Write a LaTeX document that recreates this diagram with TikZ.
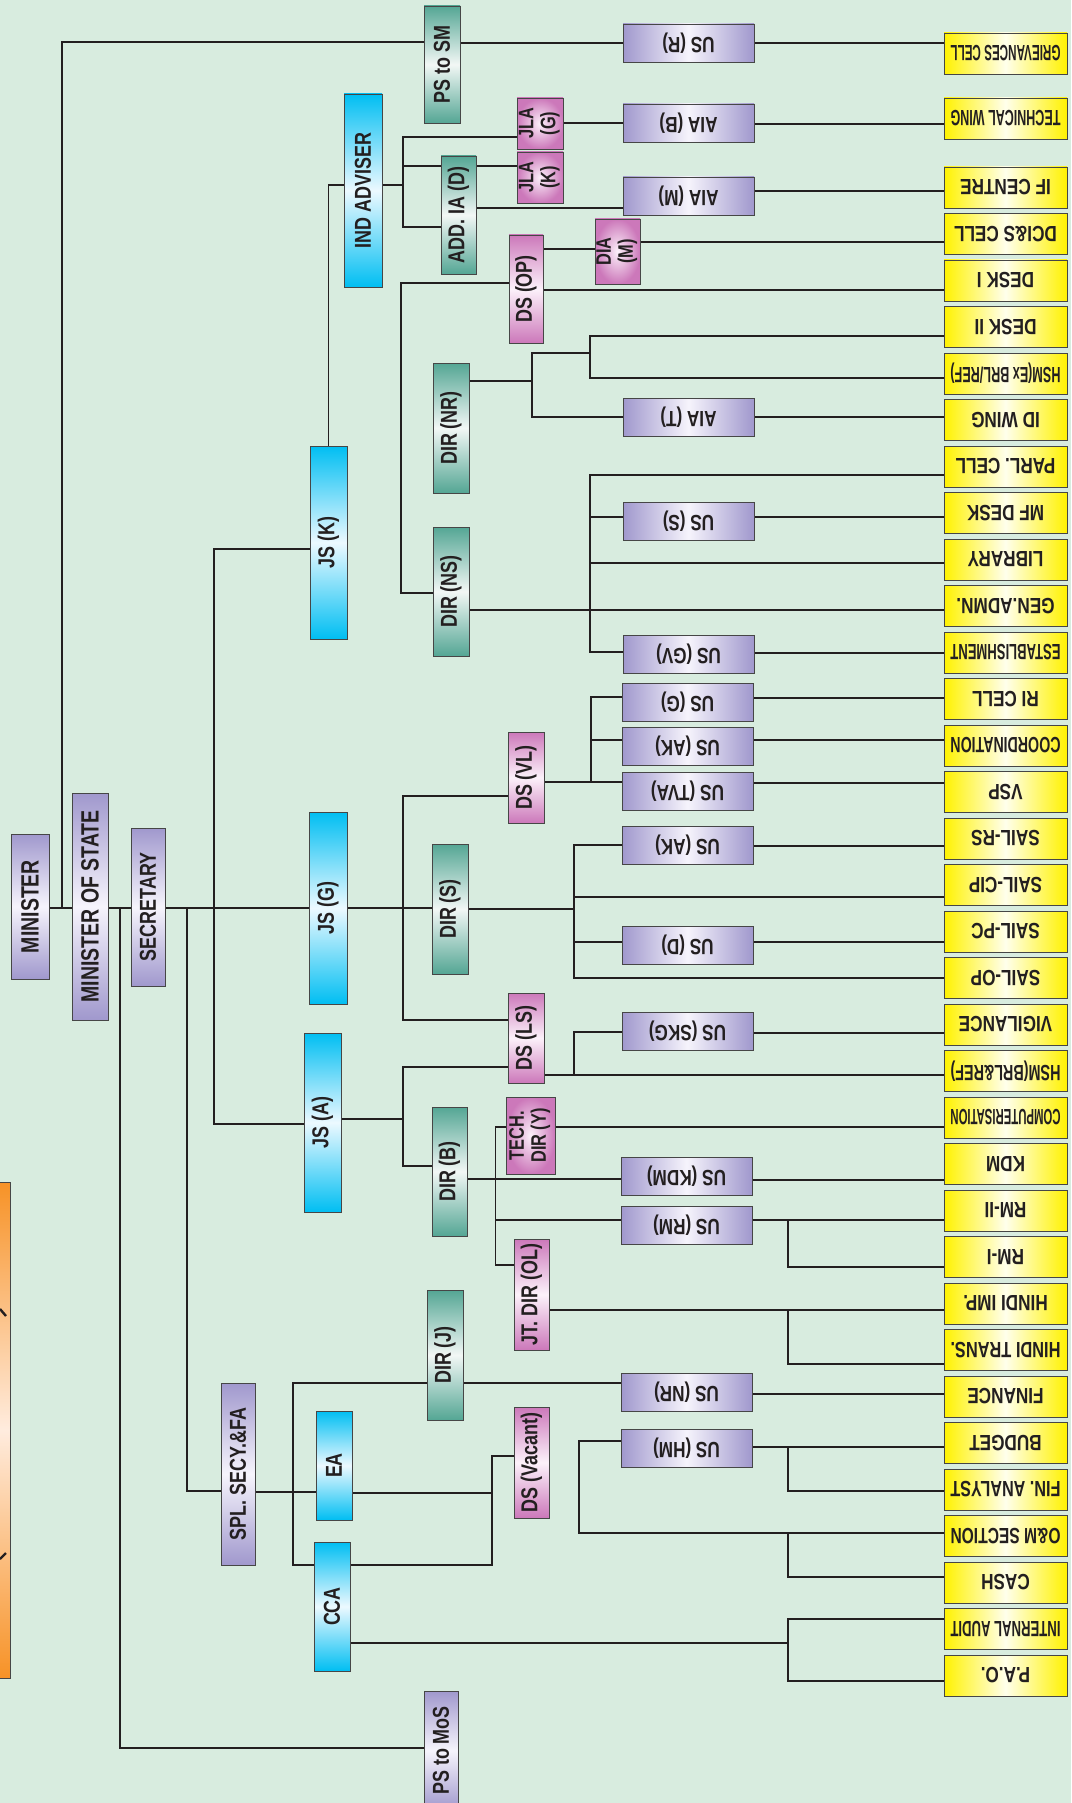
\documentclass[tikz,border=0pt]{standalone}
\usepackage{fontspec}
\setmainfont{Liberation Sans}[FakeStretch=0.78]
\usepackage{graphicx}
\pgfdeclarelayer{back}
\pgfdeclarelayer{lines}
\pgfsetlayers{back,lines,main}
\definecolor{bgc}{RGB}{216,236,223}
\definecolor{linec}{RGB}{35,31,32}
\definecolor{bordc}{RGB}{70,70,70}
\definecolor{txtc}{RGB}{35,31,32}
\definecolor{purE}{RGB}{160,152,205}
\definecolor{purM}{RGB}{246,244,252}
\definecolor{cyE}{RGB}{0,190,242}
\definecolor{cyM}{RGB}{236,249,255}
\definecolor{tlE}{RGB}{84,166,148}
\definecolor{tlM}{RGB}{242,247,245}
\definecolor{pkE}{RGB}{204,120,186}
\definecolor{pkM}{RGB}{252,241,250}
\definecolor{ylE}{RGB}{255,242,0}
\definecolor{ylM}{RGB}{255,255,236}
\definecolor{orE}{RGB}{247,146,38}
\definecolor{orM}{RGB}{255,236,222}
\newcommand\vt[1]{\rotatebox{90}{#1}}
\newcommand\ut[1]{\rotatebox{180}{#1}}
\newcommand\twol[2]{\begin{tabular}{@{}c@{}}#1\\#2\end{tabular}}
\newsavebox\fitsb
\newcommand\fitw[2]{\sbox\fitsb{#2}\ifdim\wd\fitsb>#1\relax\resizebox{#1}{\height}{\usebox\fitsb}\else\usebox\fitsb\fi}
\newcommand\yt[1]{\rotatebox{180}{\fitw{110pt}{#1}}}
\newcommand\mkbox[7]{%
  \pgfmathsetmacro\mbx{(#3+#5)/2}\pgfmathsetmacro\mby{(#4+#6)/2}%
  \pgfmathsetmacro\mbw{#5-#3}\pgfmathsetmacro\mbh{#6-#4}%
  \node[#2, minimum width=\mbw pt, minimum height=\mbh pt] (#1) at (\mbx,\mby) {#7};}
\tikzset{
  conn/.style={draw=linec, line width=1.9pt},
  bxb/.style={draw=bordc, line width=0.9pt, inner sep=0pt, outer sep=0pt, text=txtc},
  vf/.style={font=\bfseries\fontsize{23}{25}\selectfont},
  bigf/.style={font=\bfseries\fontsize{25}{28}\selectfont},
  hf/.style={font=\bfseries\fontsize{22}{24}\selectfont},
  twof/.style={font=\bfseries\fontsize{21}{22}\selectfont},
  pv/.style={bxb, vf, top color=purE, bottom color=purE, middle color=purM},
  ph/.style={bxb, hf, left color=purE, right color=purE, middle color=purM},
  cv/.style={bxb, vf, top color=cyE, bottom color=cyE, middle color=cyM},
  tv/.style={bxb, vf, top color=tlE, bottom color=tlE, middle color=tlM},
  kv/.style={bxb, vf, top color=pkE, bottom color=pkE, middle color=pkM},
  kr/.style={bxb, twof, inner color=pkM, outer color=pkE},
  yh/.style={bxb, hf, left color=ylE, right color=ylE, middle color=ylM},
  ov/.style={bxb, top color=orE, bottom color=orE, middle color=orM}
}
\begin{document}
\begin{tikzpicture}[x=1pt,y=-1pt]
\begin{pgfonlayer}{back}
\fill[bgc] (0,0) rectangle (1071,1803);
\end{pgfonlayer}
\useasboundingbox (0,0) rectangle (1071,1803);

% orange partial box at left edge
\mkbox{orng}{ov}{-4}{1182}{10}{1678}{}
\draw[linec, line width=2.4pt] (0,1309) -- (6,1316);
\draw[linec, line width=2.4pt] (0,1559) -- (6,1553);

% top levels
\mkbox{min}{pv,bigf}{11}{834}{49}{979}{\vt{MINISTER}}
\mkbox{mos}{pv,bigf}{72}{793}{108}{1020}{\vt{MINISTER OF STATE}}
\mkbox{sec}{pv}{131}{828}{165}{986}{\vt{SECRETARY}}
\mkbox{spl}{pv}{221}{1383}{255}{1565}{\vt{SPL. SECY.\&FA}}
\mkbox{psmos}{pv}{424}{1691}{458}{1810}{\vt{PS to MoS}}
\mkbox{pssm}{tv}{424}{6}{460}{123}{\vt{PS to SM}}

% JS level
\mkbox{indadv}{cv}{344}{94}{382}{287}{\vt{IND ADVISER}}
\mkbox{jsk}{cv}{310}{446}{347}{639}{\vt{JS (K)}}
\mkbox{jsg}{cv}{309}{812}{347}{1004}{\vt{JS (G)}}
\mkbox{jsa}{cv}{304}{1033}{341}{1212}{\vt{JS (A)}}
\mkbox{ea}{cv}{316}{1411}{352}{1520}{\vt{EA}}
\mkbox{cca}{cv}{314}{1542}{350}{1671}{\vt{CCA}}

% DIR level
\mkbox{addia}{tv}{441}{156}{476}{274}{\vt{ADD. IA (D)}}
\mkbox{dirnr}{tv}{433}{363}{469}{493}{\vt{DIR (NR)}}
\mkbox{dirns}{tv}{433}{527}{469}{656}{\vt{DIR (NS)}}
\mkbox{dirs}{tv}{432}{844}{468}{974}{\vt{DIR (S)}}
\mkbox{dirb}{tv}{432}{1107}{467}{1236}{\vt{DIR (B)}}
\mkbox{dirj}{tv}{427}{1290}{463}{1420}{\vt{DIR (J)}}

% pink level
\mkbox{jlag}{kr}{517}{98}{563}{149}{\vt{\twol{JLA}{(G)}}}
\mkbox{jlak}{kr}{517}{152}{563}{203}{\vt{\twol{JLA}{(K)}}}
\mkbox{diam}{kr}{595}{219}{640}{284}{\vt{\twol{DIA}{(M)}}}
\mkbox{dsop}{kv}{509}{235}{543}{343}{\vt{DS (OP)}}
\mkbox{dsvl}{kv}{508}{732}{544}{823}{\vt{DS (VL)}}
\mkbox{dsls}{kv}{508}{993}{544}{1083}{\vt{DS (LS)}}
\mkbox{techdir}{kr}{506}{1097}{555}{1174}{\vt{\twol{TECH.}{DIR (Y)}}}
\mkbox{jtdir}{kv}{514}{1239}{549}{1350}{\vt{JT. DIR (OL)}}
\mkbox{dsvac}{kv}{514}{1407}{549}{1518}{\vt{DS (Vacant)}}

% US / AIA level
\mkbox{usr}{ph}{623}{24}{754}{62}{\ut{US (R)}}
\mkbox{aiab}{ph}{623}{104}{754}{142}{\ut{AIA (B)}}
\mkbox{aiam}{ph}{623}{177}{754}{215}{\ut{AIA (M)}}
\mkbox{aiat}{ph}{623}{398}{754}{436}{\ut{AIA (T)}}
\mkbox{uss}{ph}{623}{502}{754}{540}{\ut{US (S)}}
\mkbox{usgv}{ph}{623}{635}{754}{673}{\ut{US (GV)}}
\mkbox{usg}{ph}{622}{683}{753}{721}{\ut{US (G)}}
\mkbox{usak1}{ph}{622}{727}{753}{765}{\ut{US (AK)}}
\mkbox{ustva}{ph}{622}{772}{753}{810}{\ut{US (TVA)}}
\mkbox{usak2}{ph}{622}{826}{753}{864}{\ut{US (AK)}}
\mkbox{usd}{ph}{622}{926}{753}{964}{\ut{US (D)}}
\mkbox{usskg}{ph}{622}{1012}{753}{1050}{\ut{US (SKG)}}
\mkbox{uskdm}{ph}{621}{1157}{752}{1195}{\ut{US (KDM)}}
\mkbox{usrm}{ph}{621}{1206}{752}{1244}{\ut{US (RM)}}
\mkbox{usnr}{ph}{621}{1373}{752}{1411}{\ut{US (NR)}}
\mkbox{ushm}{ph}{621}{1429}{752}{1467}{\ut{US (HM)}}

% yellow sections
\mkbox{griev}{yh}{944}{33}{1067}{74}{\yt{GRIEVANCES CELL}}
\mkbox{techw}{yh}{944}{98}{1067}{139}{\yt{TECHNICAL WING}}
\mkbox{ifc}{yh}{944}{167}{1067}{208}{\yt{IF CENTRE}}
\mkbox{dci}{yh}{944}{213.5}{1067}{254.5}{\yt{DCI\&S CELL}}
\mkbox{desk1}{yh}{944}{260}{1067}{301}{\yt{DESK I}}
\mkbox{desk2}{yh}{944}{306.5}{1067}{347.5}{\yt{DESK II}}
\mkbox{hsma}{yh}{944}{353}{1067}{394}{\yt{HSM(Ex BRL/REF)}}
\mkbox{idw}{yh}{944}{399.5}{1067}{440.5}{\yt{ID WING}}
\mkbox{parl}{yh}{944}{446}{1067}{487}{\yt{PARL. CELL}}
\mkbox{mfd}{yh}{944}{492.5}{1067}{533.5}{\yt{MF DESK}}
\mkbox{lib}{yh}{944}{539}{1067}{580}{\yt{LIBRARY}}
\mkbox{gen}{yh}{944}{585.5}{1067}{626.5}{\yt{GEN.ADMN.}}
\mkbox{estab}{yh}{944}{632}{1067}{673}{\yt{ESTABLISHMENT}}
\mkbox{ric}{yh}{944}{678.5}{1067}{719.5}{\yt{RI CELL}}
\mkbox{coord}{yh}{944}{725}{1067}{766}{\yt{COORDINATION}}
\mkbox{vsp}{yh}{944}{771.5}{1067}{812.5}{\yt{VSP}}
\mkbox{srs}{yh}{944}{818}{1067}{859}{\yt{SAIL-RS}}
\mkbox{scip}{yh}{944}{864.5}{1067}{905.5}{\yt{SAIL-CIP}}
\mkbox{spc}{yh}{944}{911}{1067}{952}{\yt{SAIL-PC}}
\mkbox{sop}{yh}{944}{957.5}{1067}{998.5}{\yt{SAIL-OP}}
\mkbox{vig}{yh}{944}{1004}{1067}{1045}{\yt{VIGILANCE}}
\mkbox{hsmb}{yh}{944}{1050.5}{1067}{1091.5}{\yt{HSM(BRL\&REF)}}
\mkbox{comp}{yh}{944}{1097}{1067}{1138}{\yt{COMPUTERISATION}}
\mkbox{kdm}{yh}{944}{1143.5}{1067}{1184.5}{\yt{KDM}}
\mkbox{rm2}{yh}{944}{1190}{1067}{1231}{\yt{RM-II}}
\mkbox{rm1}{yh}{944}{1236.5}{1067}{1277.5}{\yt{RM-I}}
\mkbox{himp}{yh}{944}{1283}{1067}{1324}{\yt{HINDI IMP.}}
\mkbox{htr}{yh}{944}{1329.5}{1067}{1370.5}{\yt{HINDI TRANS.}}
\mkbox{fin}{yh}{944}{1376}{1067}{1417}{\yt{FINANCE}}
\mkbox{bud}{yh}{944}{1422.5}{1067}{1463.5}{\yt{BUDGET}}
\mkbox{fan}{yh}{944}{1469}{1067}{1510}{\yt{FIN. ANALYST}}
\mkbox{om}{yh}{944}{1515.5}{1067}{1556.5}{\yt{O\&M SECTION}}
\mkbox{cash}{yh}{944}{1562}{1067}{1603}{\yt{CASH}}
\mkbox{ia}{yh}{944}{1608.5}{1067}{1649.5}{\yt{INTERNAL AUDIT}}
\mkbox{pao}{yh}{944}{1655}{1067}{1696}{\yt{P.A.O.}}

\begin{pgfonlayer}{lines}
% trunk
\draw[conn] (min.east |- 0,908) -- (mos.west |- 0,908);
\draw[conn] (pssm.west |- 0,42) -| (62,908);
\draw[conn] (pssm.east |- 0,43) -- (usr.west |- 0,43);
\draw[conn] (usr.east |- 0,43) -- (griev.west |- 0,43);
\draw[conn] (mos.east |- 0,908) -- (sec.west |- 0,908);
\draw[conn] (120,908) |- (psmos.west |- 0,1748);
\draw[conn] (sec.east |- 0,908) -- (jsg.west |- 0,908);
\draw[conn] (187,908) |- (spl.west |- 0,1491);
\draw[conn] (jsk.west |- 0,549) -| (214,1124) -- (jsa.west |- 0,1124);
% JS(K) / IND ADVISER
\draw[conn] (jsk.north) |- (indadv.west |- 0,185);
\draw[conn] (indadv.east |- 0,185) -- (403,185);
\draw[conn] (jlag.west |- 0,137) -| (403,227) -- (addia.west |- 0,227);
\draw[conn] (403,166) -- (addia.west |- 0,166);
\draw[conn] (addia.east |- 0,166) -- (jlak.west |- 0,166);
\draw[conn] (jlag.east |- 0,123) -- (aiab.west |- 0,123);
\draw[conn] (aiab.east |- 0,124) -- (techw.west |- 0,124);
\draw[conn] (addia.east |- 0,208) -- (aiam.west |- 0,208);
\draw[conn] (aiam.east |- 0,191) -- (ifc.west |- 0,191);
\draw[conn] (dsop.east |- 0,249) -- (diam.west |- 0,249);
\draw[conn] (diam.east |- 0,242) -- (dci.west |- 0,242);
\draw[conn] (dsop.east |- 0,290) -- (desk1.west |- 0,290);
\draw[conn] (dsop.west |- 0,283) -| (401,593) -- (dirns.west |- 0,593);
\draw[conn] (dirnr.east |- 0,381) -- (532,381);
\draw[conn] (590,353) -| (532,417) -- (aiat.west |- 0,417);
\draw[conn] (desk2.west |- 0,336) -| (590,378) -- (hsma.west |- 0,378);
\draw[conn] (aiat.east |- 0,417) -- (idw.west |- 0,417);
\draw[conn] (dirns.east |- 0,610) -- (gen.west |- 0,610);
\draw[conn] (parl.west |- 0,475) -| (590,652) -- (usgv.west |- 0,652);
\draw[conn] (590,517) -- (uss.west |- 0,517);
\draw[conn] (uss.east |- 0,517) -- (mfd.west |- 0,517);
\draw[conn] (590,563) -- (lib.west |- 0,563);
\draw[conn] (usgv.east |- 0,653) -- (estab.west |- 0,653);
% JS(G)
\draw[conn] (jsg.east |- 0,908) -- (dirs.west |- 0,908);
\draw[conn] (dsvl.west |- 0,796) -| (403,1020) -- (dsls.west |- 0,1020);
\draw[conn] (dirs.east |- 0,909) -- (574,909);
\draw[conn] (usak2.west |- 0,845) -| (574,978) -- (sop.west |- 0,978);
\draw[conn] (usak2.east |- 0,846) -- (srs.west |- 0,846);
\draw[conn] (574,897) -- (scip.west |- 0,897);
\draw[conn] (574,942) -- (usd.west |- 0,942);
\draw[conn] (usd.east |- 0,942) -- (spc.west |- 0,942);
\draw[conn] (dsvl.east |- 0,782) -- (ustva.west |- 0,782);
\draw[conn] (usg.west |- 0,697) -| (591,782);
\draw[conn] (591,740) -- (usak1.west |- 0,740);
\draw[conn] (usg.east |- 0,698) -- (ric.west |- 0,698);
\draw[conn] (usak1.east |- 0,740) -- (coord.west |- 0,740);
\draw[conn] (ustva.east |- 0,783) -- (vsp.west |- 0,783);
\draw[conn] (dsls.east |- 0,1075) -- (hsmb.west |- 0,1075);
\draw[conn] (usskg.west |- 0,1032) -| (574,1075);
\draw[conn] (usskg.east |- 0,1033) -- (vig.west |- 0,1033);
% JS(A)
\draw[conn] (jsa.east |- 0,1119) -- (403,1119);
\draw[conn] (dsls.west |- 0,1067) -| (403,1166) -- (dirb.west |- 0,1166);
\draw[conn] (dirb.east |- 0,1179) -- (uskdm.west |- 0,1179);
\draw[conn] (uskdm.east |- 0,1180) -- (kdm.west |- 0,1180);
\draw[conn] (techdir.west |- 0,1127) -| (495.5,1265) -- (jtdir.west |- 0,1265);
\draw[conn] (495.5,1220) -- (usrm.west |- 0,1220);
\draw[conn] (techdir.east |- 0,1127) -- (comp.west |- 0,1127);
\draw[conn] (usrm.east |- 0,1220) -- (rm2.west |- 0,1220);
\draw[conn] (788,1220) |- (rm1.west |- 0,1267);
\draw[conn] (jtdir.east |- 0,1310) -- (himp.west |- 0,1310);
\draw[conn] (788,1310) |- (htr.west |- 0,1364);
% SPL. SECY.&FA
\draw[conn] (spl.east |- 0,1492) -- (ea.west |- 0,1492);
\draw[conn] (dirj.west |- 0,1383) -| (293,1565) -- (cca.west |- 0,1565);
\draw[conn] (dirj.east |- 0,1383) -- (usnr.west |- 0,1383);
\draw[conn] (usnr.east |- 0,1394) -- (fin.west |- 0,1394);
\draw[conn] (ea.east |- 0,1493) -- (492,1493);
\draw[conn] (dsvac.west |- 0,1456) -| (492,1565) -- (cca.east |- 0,1565);
\draw[conn] (ushm.west |- 0,1441) -| (579,1533) -- (om.west |- 0,1533);
\draw[conn] (ushm.east |- 0,1447) -- (bud.west |- 0,1447);
\draw[conn] (788,1447) |- (fan.west |- 0,1491);
\draw[conn] (788,1533) |- (cash.west |- 0,1577);
\draw[conn] (cca.east |- 0,1643) -- (788,1643);
\draw[conn] (ia.west |- 0,1619) -| (788,1681) -- (pao.west |- 0,1681);
\end{pgfonlayer}
\end{tikzpicture}
\end{document}
